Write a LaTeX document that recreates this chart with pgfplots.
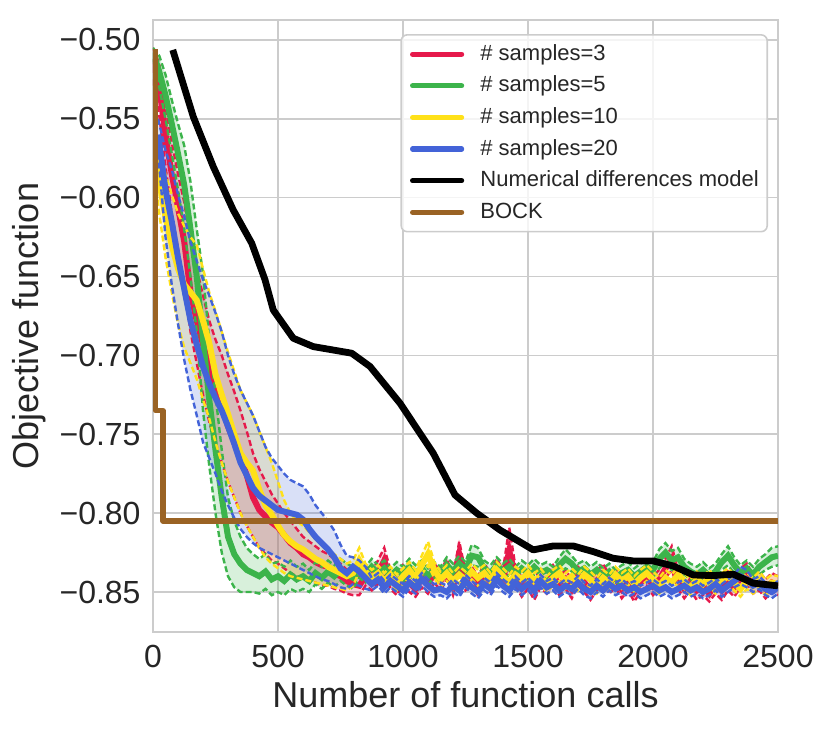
\documentclass[border=0pt]{standalone}
\usepackage{fontspec}
\setmainfont{Liberation Sans}
\usepackage{pgfplots}
\usepackage{pgfplotstable}
\pgfplotsset{compat=1.18}
\usepgfplotslibrary{fillbetween}
\definecolor{cred}{HTML}{E6194B}
\definecolor{cgreen}{HTML}{3CB44B}
\definecolor{cyellow}{HTML}{FFE119}
\definecolor{cblue}{HTML}{4363D8}
\definecolor{cbrown}{HTML}{9A6324}
\definecolor{gridc}{HTML}{CCCCCC}
\definecolor{txt}{HTML}{262626}

\pgfplotstableread{
x m lo hi
0 -0.512 -0.525 -0.505
25 -0.530 -0.548 -0.515
50 -0.560 -0.580 -0.542
75 -0.585 -0.610 -0.565
100 -0.606 -0.632 -0.585
125 -0.628 -0.655 -0.603
150 -0.660 -0.685 -0.628
175 -0.678 -0.705 -0.645
200 -0.693 -0.725 -0.662
225 -0.708 -0.742 -0.678
250 -0.720 -0.756 -0.690
275 -0.732 -0.768 -0.700
300 -0.745 -0.780 -0.712
325 -0.755 -0.790 -0.723
350 -0.765 -0.800 -0.735
375 -0.776 -0.808 -0.748
400 -0.790 -0.815 -0.762
425 -0.798 -0.822 -0.772
450 -0.802 -0.826 -0.780
475 -0.806 -0.830 -0.788
500 -0.809 -0.832 -0.794
525 -0.814 -0.835 -0.800
550 -0.819 -0.838 -0.805
575 -0.822 -0.840 -0.810
600 -0.826 -0.842 -0.815
625 -0.828 -0.843 -0.818
650 -0.831 -0.844 -0.821
675 -0.833 -0.846 -0.824
700 -0.834 -0.846 -0.826
725 -0.838 -0.848 -0.829
750 -0.840 -0.849 -0.832
775 -0.843 -0.851 -0.836
800 -0.845 -0.852 -0.838
825 -0.846 -0.852 -0.840
850 -0.840 -0.846 -0.834
875 -0.843 -0.849 -0.837
900 -0.838 -0.845 -0.830
925 -0.830 -0.838 -0.822
950 -0.842 -0.848 -0.836
975 -0.846 -0.852 -0.840
1000 -0.839 -0.845 -0.833
1025 -0.844 -0.850 -0.838
1050 -0.848 -0.853 -0.842
1075 -0.841 -0.847 -0.835
1100 -0.845 -0.851 -0.839
1125 -0.838 -0.844 -0.832
1150 -0.843 -0.849 -0.837
1175 -0.836 -0.842 -0.829
1200 -0.846 -0.852 -0.840
1225 -0.826 -0.834 -0.818
1250 -0.843 -0.849 -0.837
1275 -0.840 -0.846 -0.834
1300 -0.846 -0.852 -0.840
1325 -0.838 -0.844 -0.832
1350 -0.844 -0.850 -0.838
1375 -0.836 -0.842 -0.829
1400 -0.842 -0.848 -0.836
1425 -0.824 -0.836 -0.809
1450 -0.840 -0.846 -0.834
1475 -0.847 -0.853 -0.841
1500 -0.842 -0.848 -0.836
1525 -0.849 -0.855 -0.843
1550 -0.841 -0.847 -0.835
1575 -0.845 -0.851 -0.839
1600 -0.839 -0.845 -0.833
1625 -0.846 -0.852 -0.840
1650 -0.842 -0.848 -0.836
1675 -0.848 -0.854 -0.842
1700 -0.840 -0.846 -0.834
1725 -0.844 -0.850 -0.838
1750 -0.849 -0.855 -0.843
1775 -0.843 -0.849 -0.837
1800 -0.838 -0.844 -0.832
1825 -0.845 -0.851 -0.839
1850 -0.841 -0.847 -0.835
1875 -0.848 -0.854 -0.842
1900 -0.843 -0.849 -0.837
1925 -0.850 -0.856 -0.844
1950 -0.844 -0.850 -0.838
1975 -0.840 -0.846 -0.834
2000 -0.846 -0.852 -0.840
2025 -0.842 -0.848 -0.836
2050 -0.835 -0.841 -0.829
2075 -0.829 -0.836 -0.821
2100 -0.842 -0.848 -0.836
2125 -0.848 -0.854 -0.842
2150 -0.843 -0.849 -0.837
2175 -0.849 -0.855 -0.843
2200 -0.846 -0.852 -0.840
2225 -0.851 -0.856 -0.845
2250 -0.845 -0.851 -0.839
2275 -0.849 -0.855 -0.843
2300 -0.843 -0.849 -0.837
2325 -0.847 -0.853 -0.841
2350 -0.841 -0.847 -0.835
2375 -0.838 -0.844 -0.832
2400 -0.845 -0.851 -0.839
2425 -0.843 -0.849 -0.837
2450 -0.848 -0.854 -0.842
2475 -0.844 -0.850 -0.838
2500 -0.846 -0.852 -0.840
}\redtab

\pgfplotstableread{
x m lo hi
0 -0.508 -0.512 -0.505
25 -0.520 -0.530 -0.510
50 -0.535 -0.550 -0.522
75 -0.553 -0.572 -0.538
100 -0.572 -0.595 -0.553
125 -0.592 -0.620 -0.567
150 -0.620 -0.650 -0.590
175 -0.650 -0.685 -0.620
200 -0.690 -0.735 -0.648
225 -0.728 -0.770 -0.690
250 -0.760 -0.800 -0.725
275 -0.790 -0.825 -0.760
300 -0.815 -0.840 -0.790
325 -0.826 -0.847 -0.805
350 -0.832 -0.850 -0.815
375 -0.836 -0.850 -0.822
400 -0.838 -0.850 -0.826
425 -0.840 -0.851 -0.829
450 -0.837 -0.848 -0.826
475 -0.842 -0.852 -0.832
500 -0.840 -0.850 -0.831
525 -0.843 -0.852 -0.834
550 -0.839 -0.848 -0.830
575 -0.842 -0.850 -0.834
600 -0.840 -0.848 -0.832
625 -0.843 -0.850 -0.836
650 -0.838 -0.845 -0.831
675 -0.841 -0.848 -0.834
700 -0.837 -0.844 -0.830
725 -0.840 -0.847 -0.833
750 -0.836 -0.843 -0.829
775 -0.839 -0.846 -0.832
800 -0.841 -0.848 -0.834
825 -0.836 -0.841 -0.831
850 -0.839 -0.844 -0.834
875 -0.834 -0.839 -0.829
900 -0.838 -0.843 -0.833
925 -0.835 -0.840 -0.830
950 -0.840 -0.845 -0.835
975 -0.836 -0.841 -0.831
1000 -0.839 -0.844 -0.834
1025 -0.834 -0.839 -0.829
1050 -0.838 -0.843 -0.833
1075 -0.835 -0.840 -0.830
1100 -0.840 -0.845 -0.835
1125 -0.836 -0.841 -0.831
1150 -0.839 -0.844 -0.834
1175 -0.833 -0.838 -0.828
1200 -0.837 -0.842 -0.832
1225 -0.832 -0.837 -0.827
1250 -0.836 -0.841 -0.831
1275 -0.827 -0.833 -0.820
1300 -0.828 -0.834 -0.822
1325 -0.835 -0.840 -0.830
1350 -0.838 -0.843 -0.833
1375 -0.833 -0.838 -0.828
1400 -0.837 -0.842 -0.832
1425 -0.834 -0.839 -0.829
1450 -0.839 -0.844 -0.834
1475 -0.835 -0.840 -0.830
1500 -0.838 -0.843 -0.833
1525 -0.834 -0.839 -0.829
1550 -0.838 -0.843 -0.833
1575 -0.836 -0.841 -0.831
1600 -0.839 -0.844 -0.834
1625 -0.833 -0.838 -0.828
1650 -0.829 -0.835 -0.823
1675 -0.832 -0.837 -0.827
1700 -0.837 -0.842 -0.832
1725 -0.835 -0.840 -0.830
1750 -0.839 -0.844 -0.834
1775 -0.836 -0.841 -0.831
1800 -0.840 -0.845 -0.835
1825 -0.837 -0.842 -0.832
1850 -0.841 -0.846 -0.836
1875 -0.838 -0.843 -0.833
1900 -0.836 -0.841 -0.831
1925 -0.840 -0.845 -0.835
1950 -0.837 -0.842 -0.832
1975 -0.834 -0.839 -0.829
2000 -0.836 -0.841 -0.831
2025 -0.829 -0.835 -0.823
2050 -0.825 -0.831 -0.819
2075 -0.830 -0.836 -0.824
2100 -0.828 -0.834 -0.822
2125 -0.834 -0.839 -0.829
2150 -0.837 -0.842 -0.832
2175 -0.839 -0.844 -0.834
2200 -0.836 -0.841 -0.831
2225 -0.840 -0.845 -0.835
2250 -0.837 -0.842 -0.832
2275 -0.831 -0.836 -0.826
2300 -0.827 -0.833 -0.821
2325 -0.833 -0.838 -0.828
2350 -0.838 -0.843 -0.833
2375 -0.835 -0.840 -0.830
2400 -0.839 -0.844 -0.834
2425 -0.834 -0.839 -0.829
2450 -0.831 -0.836 -0.826
2475 -0.828 -0.834 -0.822
2500 -0.827 -0.833 -0.821
}\greentab

\pgfplotstableread{
x m lo hi
10 -0.575 -0.590 -0.555
25 -0.590 -0.610 -0.568
50 -0.612 -0.638 -0.585
75 -0.630 -0.660 -0.598
100 -0.645 -0.680 -0.610
125 -0.655 -0.695 -0.618
150 -0.660 -0.705 -0.625
175 -0.665 -0.715 -0.630
200 -0.678 -0.728 -0.645
225 -0.692 -0.740 -0.660
250 -0.712 -0.755 -0.672
275 -0.725 -0.768 -0.685
300 -0.737 -0.780 -0.698
325 -0.750 -0.790 -0.710
350 -0.762 -0.800 -0.722
375 -0.768 -0.808 -0.730
400 -0.773 -0.815 -0.738
425 -0.785 -0.822 -0.748
450 -0.795 -0.828 -0.758
475 -0.801 -0.832 -0.768
500 -0.808 -0.835 -0.780
525 -0.814 -0.838 -0.792
550 -0.818 -0.840 -0.800
575 -0.821 -0.841 -0.805
600 -0.823 -0.842 -0.808
625 -0.826 -0.843 -0.812
650 -0.829 -0.844 -0.816
675 -0.831 -0.845 -0.819
700 -0.834 -0.846 -0.823
725 -0.836 -0.847 -0.826
750 -0.838 -0.848 -0.829
775 -0.840 -0.849 -0.832
800 -0.838 -0.846 -0.830
825 -0.830 -0.837 -0.822
850 -0.837 -0.842 -0.832
875 -0.841 -0.846 -0.836
900 -0.838 -0.843 -0.833
925 -0.843 -0.848 -0.838
950 -0.839 -0.844 -0.834
975 -0.844 -0.849 -0.839
1000 -0.840 -0.845 -0.835
1025 -0.836 -0.841 -0.831
1050 -0.841 -0.846 -0.836
1075 -0.833 -0.839 -0.827
1100 -0.826 -0.833 -0.818
1125 -0.836 -0.841 -0.831
1150 -0.842 -0.847 -0.837
1175 -0.838 -0.843 -0.833
1200 -0.843 -0.848 -0.838
1225 -0.839 -0.844 -0.834
1250 -0.842 -0.847 -0.837
1275 -0.837 -0.842 -0.832
1300 -0.841 -0.846 -0.836
1325 -0.838 -0.843 -0.833
1350 -0.843 -0.848 -0.838
1375 -0.836 -0.841 -0.831
1400 -0.840 -0.845 -0.835
1425 -0.844 -0.849 -0.839
1450 -0.839 -0.844 -0.834
1475 -0.842 -0.847 -0.837
1500 -0.838 -0.843 -0.833
1525 -0.843 -0.848 -0.838
1550 -0.840 -0.845 -0.835
1575 -0.845 -0.850 -0.840
1600 -0.841 -0.846 -0.836
1625 -0.838 -0.843 -0.833
1650 -0.843 -0.848 -0.838
1675 -0.840 -0.845 -0.835
1700 -0.844 -0.849 -0.839
1725 -0.839 -0.844 -0.834
1750 -0.842 -0.847 -0.837
1775 -0.846 -0.851 -0.841
1800 -0.841 -0.846 -0.836
1825 -0.844 -0.849 -0.839
1850 -0.839 -0.844 -0.834
1875 -0.843 -0.848 -0.838
1900 -0.840 -0.845 -0.835
1925 -0.845 -0.850 -0.840
1950 -0.841 -0.846 -0.836
1975 -0.838 -0.843 -0.833
2000 -0.842 -0.847 -0.837
2025 -0.846 -0.851 -0.841
2050 -0.841 -0.846 -0.836
2075 -0.844 -0.849 -0.839
2100 -0.839 -0.844 -0.834
2125 -0.843 -0.848 -0.838
2150 -0.847 -0.852 -0.842
2175 -0.842 -0.847 -0.837
2200 -0.845 -0.850 -0.840
2225 -0.841 -0.846 -0.836
2250 -0.846 -0.851 -0.841
2275 -0.843 -0.848 -0.838
2300 -0.840 -0.845 -0.835
2325 -0.844 -0.849 -0.839
2350 -0.848 -0.853 -0.843
2375 -0.843 -0.848 -0.838
2400 -0.846 -0.851 -0.841
2425 -0.842 -0.847 -0.837
2450 -0.847 -0.852 -0.842
2475 -0.844 -0.849 -0.839
2500 -0.845 -0.850 -0.840
}\yellowtab

\pgfplotstableread{
x m lo hi
20 -0.560 -0.572 -0.550
25 -0.565 -0.580 -0.553
50 -0.595 -0.625 -0.570
75 -0.615 -0.655 -0.582
100 -0.638 -0.680 -0.598
125 -0.658 -0.703 -0.612
150 -0.678 -0.722 -0.628
175 -0.693 -0.738 -0.640
200 -0.707 -0.755 -0.652
225 -0.718 -0.765 -0.662
250 -0.727 -0.775 -0.673
275 -0.735 -0.786 -0.685
300 -0.745 -0.795 -0.700
325 -0.756 -0.803 -0.712
350 -0.768 -0.810 -0.722
375 -0.776 -0.815 -0.730
400 -0.784 -0.819 -0.738
425 -0.789 -0.822 -0.748
450 -0.792 -0.824 -0.758
475 -0.795 -0.826 -0.765
500 -0.798 -0.828 -0.770
525 -0.799 -0.830 -0.775
550 -0.800 -0.832 -0.779
575 -0.801 -0.834 -0.781
600 -0.804 -0.836 -0.783
625 -0.810 -0.838 -0.788
650 -0.815 -0.840 -0.795
675 -0.819 -0.842 -0.800
700 -0.823 -0.843 -0.805
725 -0.828 -0.845 -0.811
750 -0.835 -0.847 -0.820
775 -0.838 -0.848 -0.827
800 -0.834 -0.845 -0.828
825 -0.837 -0.846 -0.830
850 -0.841 -0.848 -0.834
875 -0.845 -0.849 -0.841
900 -0.842 -0.846 -0.838
925 -0.847 -0.851 -0.843
950 -0.843 -0.847 -0.839
975 -0.846 -0.850 -0.842
1000 -0.849 -0.853 -0.845
1025 -0.844 -0.848 -0.840
1050 -0.847 -0.851 -0.843
1075 -0.842 -0.846 -0.838
1100 -0.846 -0.850 -0.842
1125 -0.849 -0.853 -0.845
1150 -0.848 -0.852 -0.844
1175 -0.850 -0.854 -0.846
1200 -0.846 -0.850 -0.842
1225 -0.849 -0.853 -0.845
1250 -0.843 -0.847 -0.839
1275 -0.847 -0.851 -0.843
1300 -0.850 -0.854 -0.846
1325 -0.845 -0.849 -0.841
1350 -0.848 -0.852 -0.844
1375 -0.842 -0.846 -0.838
1400 -0.846 -0.850 -0.842
1425 -0.849 -0.853 -0.845
1450 -0.844 -0.848 -0.840
1475 -0.848 -0.852 -0.844
1500 -0.845 -0.849 -0.841
1525 -0.849 -0.853 -0.845
1550 -0.843 -0.847 -0.839
1575 -0.847 -0.851 -0.843
1600 -0.845 -0.849 -0.841
1625 -0.849 -0.853 -0.845
1650 -0.846 -0.850 -0.842
1675 -0.848 -0.852 -0.844
1700 -0.844 -0.848 -0.840
1725 -0.848 -0.852 -0.844
1750 -0.850 -0.854 -0.846
1775 -0.846 -0.850 -0.842
1800 -0.849 -0.853 -0.845
1825 -0.845 -0.849 -0.841
1850 -0.848 -0.852 -0.844
1875 -0.846 -0.850 -0.842
1900 -0.849 -0.853 -0.845
1925 -0.847 -0.851 -0.843
1950 -0.850 -0.854 -0.846
1975 -0.848 -0.852 -0.844
2000 -0.846 -0.850 -0.842
2025 -0.849 -0.853 -0.845
2050 -0.847 -0.851 -0.843
2075 -0.850 -0.854 -0.846
2100 -0.848 -0.852 -0.844
2125 -0.846 -0.850 -0.842
2150 -0.849 -0.853 -0.845
2175 -0.847 -0.851 -0.843
2200 -0.850 -0.854 -0.846
2225 -0.848 -0.852 -0.844
2250 -0.845 -0.849 -0.841
2275 -0.849 -0.853 -0.845
2300 -0.846 -0.850 -0.842
2325 -0.843 -0.847 -0.839
2350 -0.840 -0.845 -0.834
2375 -0.842 -0.847 -0.836
2400 -0.846 -0.850 -0.842
2425 -0.844 -0.848 -0.840
2450 -0.848 -0.852 -0.844
2475 -0.850 -0.854 -0.846
2500 -0.847 -0.851 -0.843
}\bluetab

\pgfplotstableread{
x y
79 -0.5063
161 -0.5486
241 -0.5803
321 -0.6078
395 -0.6289
448 -0.6520
481 -0.6712
561 -0.6891
641 -0.6944
795 -0.6986
868 -0.7070
988 -0.7303
1121 -0.7620
1208 -0.7885
1295 -0.8000
1388 -0.8107
1521 -0.8233
1601 -0.8208
1681 -0.8208
1761 -0.8244
1841 -0.8286
1921 -0.8303
2001 -0.8303
2081 -0.8335
2161 -0.8392
2241 -0.8396
2321 -0.8387
2401 -0.8444
2500 -0.8461
}\blacktab

\pgfplotstableread{
x y
10 -0.506
10 -0.735
40 -0.735
40 -0.805
2500 -0.805
}\bocktab

\pgfplotsset{
  dashedband/.style={line width=1.2pt, dash pattern=on 3pt off 1.5pt, forget plot},
  meanline/.style={line width=3pt},
}

\begin{document}
\begin{tikzpicture}
\begin{axis}[
  name=ax,
  scale only axis,
  width=312.5pt, height=306pt,
  xmin=0, xmax=2500, ymin=-0.87535, ymax=-0.48733,
  xtick={0,500,1000,1500,2000,2500},
  xticklabels={0,500,1000,1500,2000,2500},
  ytick={-0.85,-0.80,-0.75,-0.70,-0.65,-0.60,-0.55,-0.50},
  yticklabels={−0.85,−0.80,−0.75,−0.70,−0.65,−0.60,−0.55,−0.50},
  grid=major,
  major grid style={gridc, line width=0.8pt},
  axis line style={gridc, line width=1pt},
  major tick length=0pt,
  tick label style={font=\fontsize{16}{19}\selectfont, text=txt},
  xticklabel style={yshift=-3.2pt},
  yticklabel style={xshift=-2.7pt},
  label style={font=\fontsize{18}{21}\selectfont, text=txt},
  xlabel={Number of function calls},
  ylabel={Objective function},
  legend cell align=left,
  legend style={at={(0.984,0.977)}, anchor=north east, draw=gridc, line width=0.8pt,
    rounded corners=3pt, fill=white, fill opacity=0.8, text opacity=1,
    font=\fontsize{11}{13}\selectfont, text=txt, inner sep=3pt, row sep=2.4pt,
    nodes={inner sep=1.2pt, text height=8.5pt, text depth=2.5pt}},
  legend image code/.code={\draw[#1, line cap=round, line width=2.6pt] (1pt,0pt) -- (25.5pt,0pt); \path (0pt,0pt) (32pt,0pt);},
]
% samples = 3
\addplot[draw=none, name path=rlo, forget plot] table[x=x,y=lo]{\redtab};
\addplot[draw=none, name path=rhi, forget plot] table[x=x,y=hi]{\redtab};
\addplot[fill=cred, fill opacity=0.2, draw=none, forget plot] fill between[of=rlo and rhi];
\addplot[cred, dashedband] table[x=x,y=lo]{\redtab};
\addplot[cred, dashedband] table[x=x,y=hi]{\redtab};
\addplot[cred, meanline] table[x=x,y=m]{\redtab};
\addlegendentry{\# samples=3}
% samples = 5
\addplot[draw=none, name path=glo, forget plot] table[x=x,y=lo]{\greentab};
\addplot[draw=none, name path=ghi, forget plot] table[x=x,y=hi]{\greentab};
\addplot[fill=cgreen, fill opacity=0.2, draw=none, forget plot] fill between[of=glo and ghi];
\addplot[cgreen, dashedband] table[x=x,y=lo]{\greentab};
\addplot[cgreen, dashedband] table[x=x,y=hi]{\greentab};
\addplot[cgreen, meanline] table[x=x,y=m]{\greentab};
\addlegendentry{\# samples=5}
% samples = 10
\addplot[draw=none, name path=ylo, forget plot] table[x=x,y=lo]{\yellowtab};
\addplot[draw=none, name path=yhi, forget plot] table[x=x,y=hi]{\yellowtab};
\addplot[fill=cyellow, fill opacity=0.2, draw=none, forget plot] fill between[of=ylo and yhi];
\addplot[cyellow, dashedband] table[x=x,y=lo]{\yellowtab};
\addplot[cyellow, dashedband] table[x=x,y=hi]{\yellowtab};
\addplot[cyellow, meanline] table[x=x,y=m]{\yellowtab};
\addlegendentry{\# samples=10}
% samples = 20
\addplot[draw=none, name path=blo, forget plot] table[x=x,y=lo]{\bluetab};
\addplot[draw=none, name path=bhi, forget plot] table[x=x,y=hi]{\bluetab};
\addplot[fill=cblue, fill opacity=0.2, draw=none, forget plot] fill between[of=blo and bhi];
\addplot[cblue, dashedband] table[x=x,y=lo]{\bluetab};
\addplot[cblue, dashedband] table[x=x,y=hi]{\bluetab};
\addplot[cblue, meanline] table[x=x,y=m]{\bluetab};
\addlegendentry{\# samples=20}
% numerical differences
\addplot[black, line width=3.4pt, line join=round] table[x=x,y=y]{\blacktab};
\addlegendentry{Numerical differences model}
% BOCK
\addplot[cbrown, line width=2.6pt, line join=round] table[x=x,y=y]{\bocktab};
\addlegendentry{BOCK}
\end{axis}
\pgfresetboundingbox
\path[use as bounding box] ([xshift=-76.5pt,yshift=-50pt]ax.south west) rectangle ([xshift=26pt,yshift=10pt]ax.north east);
\end{tikzpicture}
\end{document}
